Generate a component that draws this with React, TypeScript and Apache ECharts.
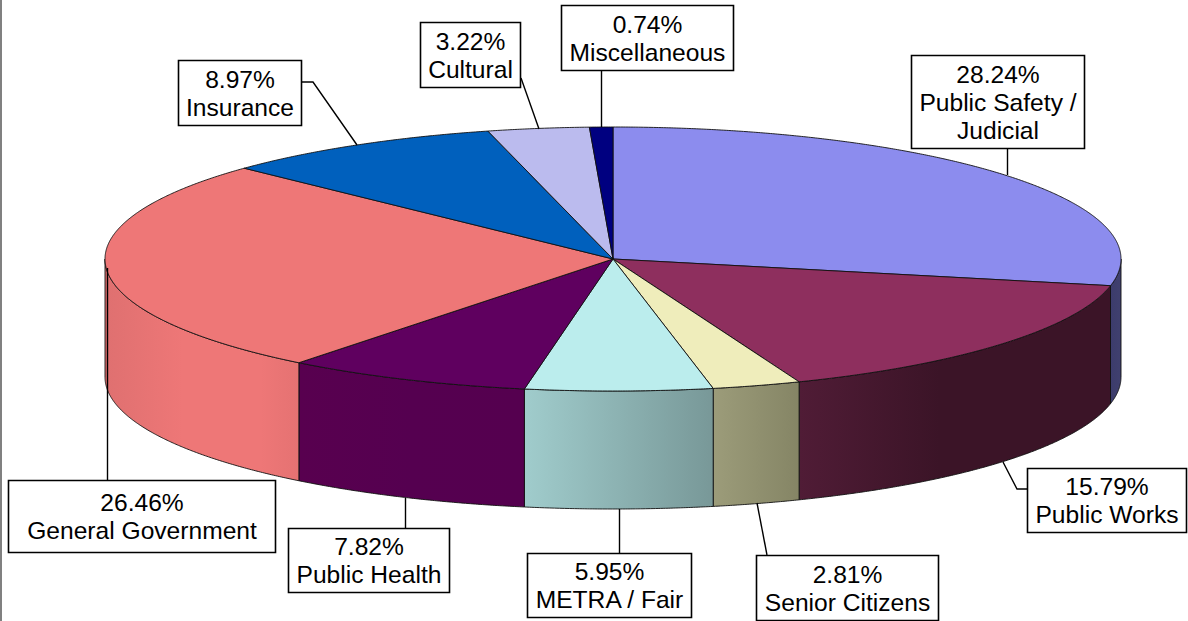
import React, { useEffect, useRef } from "react";
import * as echarts from "echarts";

const sliceNames = [
  "Public Safety /\nJudicial",
  "Public Works",
  "Senior Citizens",
  "METRA / Fair",
  "Public Health",
  "General Government",
  "Insurance",
  "Cultural",
  "Miscellaneous",
];
const sliceValues = [28.24, 15.79, 2.81, 5.95, 7.82, 26.46, 8.97, 3.22, 0.74];
const topColors = ["#8C8CEE", "#8E2F5E", "#EFEDBB", "#BBEDED", "#5F005F", "#EE7777", "#0060BD", "#BBBBEE", "#000080"];
const sideStops: [number, string][][] = [
  [[0, "#3C3C6C"], [1, "#40406E"]],
  [[0, "#501C36"], [0.45, "#3B1427"], [1, "#3B1427"]],
  [[0, "#9C9C7A"], [1, "#858565"]],
  [[0, "#A0CCCC"], [1, "#789898"]],
  [[0, "#58004F"], [0.5, "#550050"], [1, "#55004F"]],
  [[0, "#DF7070"], [0.4, "#EE7777"], [0.8, "#EE7777"], [1, "#E57272"]],
  [[0, "#0060BD"], [1, "#0060BD"]],
  [[0, "#BBBBEE"], [1, "#BBBBEE"]],
  [[0, "#000080"], [1, "#000080"]],
];

// Layout of the label boxes: [x, y, width, height] and their leader lines.
const labelBoxes = [
  [911.5, 55.5, 173, 93],
  [1027.5, 468.5, 159, 64],
  [756.5, 555.5, 182, 65],
  [527.5, 553.5, 164, 64],
  [288.5, 528.5, 161, 64],
  [8.5, 480.5, 267, 72],
  [178.5, 60.5, 123, 65],
  [420.5, 22.5, 100, 65],
  [561.5, 5.5, 172, 65],
];
const leaderLines = [
  [[1007.5, 148], [1007.5, 175]],
  [[1003, 462], [1017, 489], [1027, 489]],
  [[757, 503], [767, 555]],
  [[619.5, 509], [619.5, 553]],
  [[405.5, 498], [405.5, 528]],
  [[107.5, 268], [107.5, 480]],
  [[302, 82], [313, 82], [357, 145]],
  [[521, 78], [539, 129]],
  [[601.5, 70], [601.5, 127]],
];

const CX = 613;
const CY = 259;
const RX = 508;
const RY = 132;
const DEPTH = 118;
const total = sliceValues.reduce((a, b) => a + b, 0);
const TEXT_FONT = '24.6px "Liberation Sans", Arial, sans-serif';

const angleRange = (index: number): [number, number] => {
  let before = 0;
  for (let i = 0; i < index; i++) before += sliceValues[i];
  return [(before / total) * 2 * Math.PI, ((before + sliceValues[index]) / total) * 2 * Math.PI];
};
const rim = (t: number, dy = 0): number[] => [CX + RX * Math.sin(t), CY - RY * Math.cos(t) + dy];
const arc = (a: number, b: number, dy = 0): number[][] => {
  const n = Math.max(2, Math.ceil(Math.abs(b - a) / 0.005));
  const pts: number[][] = [];
  for (let i = 0; i <= n; i++) pts.push(rim(a + ((b - a) * i) / n, dy));
  return pts;
};

export default function App() {
  const ref = useRef<HTMLDivElement>(null);
  useEffect(() => {
    const chart = echarts.init(ref.current!, undefined, { renderer: "svg" });
    const data = sliceValues.map((v, i) => ({ name: sliceNames[i], value: v }));
    chart.setOption({
      animation: false,
      backgroundColor: "#ffffff",
      graphic: [
        {
          type: "line",
          z: 0,
          shape: { x1: 1, y1: 0, x2: 1, y2: 621 },
          style: { stroke: "#808080", lineWidth: 2 },
        },
      ],
      series: [
        {
          type: "custom",
          coordinateSystem: "none",
          z: 1,
          data,
          renderItem: (params: any) => {
            const [a0, a1] = angleRange(params.dataIndex);
            const lo = Math.max(a0, Math.PI / 2);
            const hi = Math.min(a1, (3 * Math.PI) / 2);
            if (hi <= lo) return { type: "group", children: [] };
            const points = [...arc(lo, hi), ...arc(hi, lo, DEPTH)];
            return {
              type: "polygon",
              shape: { points },
              style: {
                fill: new echarts.graphic.LinearGradient(
                  0, 0, 1, 0,
                  sideStops[params.dataIndex].map(([offset, color]) => ({ offset, color }))
                ),
                stroke: "#111111",
                lineWidth: 0.9,
              },
            };
          },
        },
        {
          type: "custom",
          coordinateSystem: "none",
          z: 2,
          data,
          renderItem: (params: any) => {
            const [a0, a1] = angleRange(params.dataIndex);
            return {
              type: "polygon",
              shape: { points: [[CX, CY], ...arc(a0, a1)] },
              style: { fill: topColors[params.dataIndex], stroke: "#111111", lineWidth: 0.9 },
            };
          },
        },
        {
          type: "custom",
          coordinateSystem: "none",
          z: 3,
          data,
          renderItem: (params: any, api: any) => {
            const i = params.dataIndex;
            const [x, y, w, h] = labelBoxes[i];
            return {
              type: "group",
              children: [
                {
                  type: "polyline",
                  shape: { points: leaderLines[i] },
                  style: { stroke: "#000000", lineWidth: 1.4, fill: "none" },
                },
                {
                  type: "rect",
                  shape: { x, y, width: w, height: h },
                  style: { fill: "#ffffff", stroke: "#000000", lineWidth: 1.6 },
                },
                {
                  type: "text",
                  style: {
                    x: x + w / 2,
                    y: y + h / 2,
                    text: `${api.value(0).toFixed(2)}%\n${sliceNames[i]}`,
                    font: TEXT_FONT,
                    lineHeight: 28,
                    align: "center",
                    verticalAlign: "middle",
                    fill: "#000000",
                  },
                },
              ],
            };
          },
        },
      ],
    });
    return () => chart.dispose();
  }, []);
  return <div ref={ref} style={{ position: "fixed", left: 0, top: 0, width: 1188, height: 621 }} />;
}
